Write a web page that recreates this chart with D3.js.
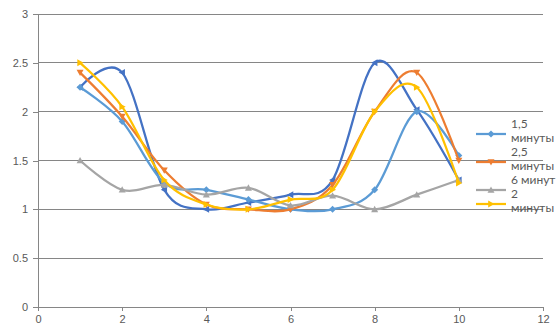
<!DOCTYPE html>
<html>
<head>
<meta charset="utf-8">
<script src="https://cdn.jsdelivr.net/npm/d3@7"></script>
<style>
  html, body { margin: 0; padding: 0; background: #fff; }
  svg { display: block; font-family: Lato, "Open Sans", sans-serif; }
</style>
</head>
<body>
<svg id="chart" width="560" height="336"></svg>
<script>
// Measurement points (minutes along the x axis)
const xs = [1, 2, 3, 4, 5, 6, 7, 8, 9, 10];

// Series values
const s1 = [2.25, 2.4, 1.2, 1.0, 1.07, 1.15, 1.3, 2.5, 2.02, 1.3];   // no legend entry
const s15 = [2.25, 1.9, 1.27, 1.2, 1.1, 1.0, 1.0, 1.2, 2.0, 1.55];
const s25 = [2.4, 1.95, 1.4, 1.05, 1.0, 1.0, 1.25, 2.0, 2.4, 1.5];
const s6 = [1.5, 1.2, 1.25, 1.15, 1.22, 1.04, 1.14, 1.0, 1.15, 1.3];
const s2 = [2.5, 2.05, 1.3, 1.05, 1.0, 1.1, 1.2, 2.0, 2.25, 1.27];

const seriesNames = ["", "1,5 минуты", "2,5 минуты", "6 минут", "2 минуты"];
const seriesValues = [s1, s15, s25, s6, s2];
const seriesColors = ["#4472C4", "#5B9BD5", "#ED7D31", "#A5A5A5", "#FFC000"];
const seriesMarkers = ["left", "diamond", "down", "up", "right"];
const inLegend = [false, true, true, true, true];

const xTicks = [0, 2, 4, 6, 8, 10, 12];
const yTicks = [0, 0.5, 1, 1.5, 2, 2.5, 3];

const svg = d3.select("#chart");
const plotLeft = 38, plotRight = 543, plotTop = 14, plotBottom = 307;

const x = d3.scaleLinear().domain([0, 12]).range([plotLeft, plotRight]);
const y = d3.scaleLinear().domain([0, 3]).range([plotBottom, plotTop]);

const axisColor = "#868686";
const textColor = "#595959";

// Horizontal gridlines
svg.append("g")
  .selectAll("line")
  .data(yTicks.filter(d => d > 0))
  .join("line")
  .attr("x1", plotLeft).attr("x2", plotRight)
  .attr("y1", d => y(d)).attr("y2", d => y(d))
  .attr("stroke", axisColor).attr("stroke-width", 1)
  .attr("shape-rendering", "crispEdges");

// Y axis
const yAxis = svg.append("g")
  .attr("transform", `translate(${plotLeft},0)`)
  .call(d3.axisLeft(y).tickValues(yTicks).tickSize(5).tickPadding(5).tickFormat(d3.format("")));
yAxis.select(".domain").attr("stroke", axisColor).attr("shape-rendering", "crispEdges");
yAxis.selectAll(".tick line").attr("stroke", axisColor).attr("shape-rendering", "crispEdges");
yAxis.selectAll(".tick text").attr("fill", textColor).style("font-size", "11px");

// X axis
const xAxis = svg.append("g")
  .attr("transform", `translate(0,${plotBottom})`)
  .call(d3.axisBottom(x).tickValues(xTicks).tickSize(4).tickPadding(4).tickFormat(d3.format("")));
xAxis.select(".domain").attr("stroke", axisColor).attr("shape-rendering", "crispEdges");
xAxis.selectAll(".tick line").attr("stroke", axisColor).attr("shape-rendering", "crispEdges");
xAxis.selectAll(".tick text").attr("fill", textColor).style("font-size", "11px");

// Marker shapes
function markerPath(kind, s) {
  switch (kind) {
    case "diamond": return `M0,${-s}L${s},0L0,${s}L${-s},0Z`;
    case "down": return `M${-s},${-s * 0.8}L${s},${-s * 0.8}L0,${s}Z`;
    case "up": return `M${-s},${s * 0.8}L${s},${s * 0.8}L0,${-s}Z`;
    case "right": return `M${-s * 0.8},${-s}L${-s * 0.8},${s}L${s},0Z`;
    case "left": return `M${s * 0.8},${-s}L${s * 0.8},${s}L${-s},0Z`;
  }
}

const line = d3.line()
  .x(d => x(d[0]))
  .y(d => y(d[1]))
  .curve(d3.curveCardinal.tension(0));

const plot = svg.append("g");
seriesValues.forEach((vals, i) => {
  const pts = xs.map((xv, j) => [xv, vals[j]]);
  const g = plot.append("g");
  g.append("path")
    .datum(pts)
    .attr("d", line)
    .attr("fill", "none")
    .attr("stroke", seriesColors[i])
    .attr("stroke-width", 2.25)
    .attr("stroke-linejoin", "round");
  g.selectAll("path.m")
    .data(pts)
    .join("path")
    .attr("class", "m")
    .attr("d", markerPath(seriesMarkers[i], 3.5))
    .attr("transform", d => `translate(${x(d[0])},${y(d[1])})`)
    .attr("fill", seriesColors[i]);
});

// Legend
const legendRows = [
  { lines: ["1,5", "минуты"], ty: 128, my: 134 },
  { lines: ["2,5", "минуты"], ty: 156, my: 162 },
  { lines: ["6 минут"], ty: 184, my: 190 },
  { lines: ["2", "минуты"], ty: 198, my: 204 }
];
const legend = svg.append("g");
let r = 0;
seriesNames.forEach((name, i) => {
  if (!inLegend[i]) return;
  const row = legendRows[r++];
  const g = legend.append("g");
  g.append("line")
    .attr("x1", 476).attr("x2", 506)
    .attr("y1", row.my).attr("y2", row.my)
    .attr("stroke", seriesColors[i]).attr("stroke-width", 2.25);
  g.append("path")
    .attr("d", markerPath(seriesMarkers[i], 3.5))
    .attr("transform", `translate(491,${row.my})`)
    .attr("fill", seriesColors[i]);
  const t = g.append("text")
    .attr("x", 511).attr("y", row.ty)
    .attr("fill", textColor)
    .style("font-size", "12px");
  row.lines.forEach((ln, k) => {
    t.append("tspan").attr("x", 511).attr("y", row.ty + k * 14).text(ln);
  });
});
</script>
</body>
</html>
